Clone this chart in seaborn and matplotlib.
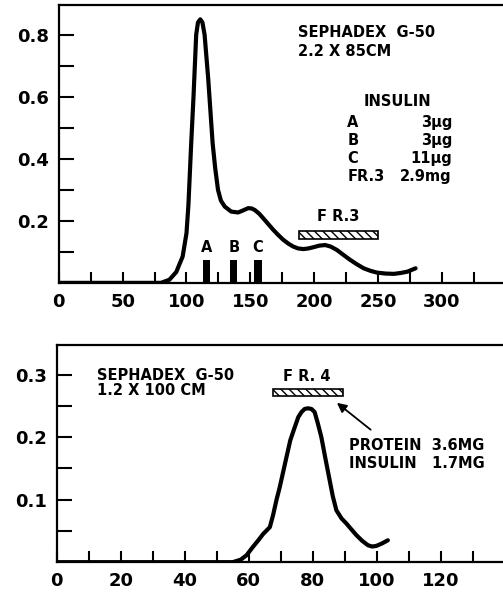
import numpy as np
import pandas as pd
import matplotlib
matplotlib.use("Agg")
import matplotlib.pyplot as plt
import seaborn as sns

# top panel: Sephadex G-50, 2.2 x 85 cm
top_x = [0, 80, 86.6, 92, 97, 100, 101.5, 102.6, 103.7, 105.5, 107.6, 109, 110.8, 112.5, 114.2, 117, 120.5,
         122.5, 124.7, 127, 130, 135, 140.4, 144, 148.3, 151, 153.5, 157, 160, 164, 168, 172, 175.8, 180,
         183.7, 187.5, 191.6, 195.5, 199.5, 204, 208.7, 213, 217.9, 223, 228.3, 233.5, 238.8, 244, 249.3,
         256, 262.5, 268, 273, 279.5]
top_y = [0, 0, 0.01, 0.035, 0.085, 0.16, 0.25, 0.35, 0.45, 0.6, 0.8, 0.84, 0.85, 0.84, 0.80, 0.66, 0.45,
         0.37, 0.30, 0.265, 0.246, 0.23, 0.227, 0.233, 0.241, 0.24, 0.235, 0.223, 0.209, 0.19, 0.171, 0.154,
         0.139, 0.126, 0.117, 0.111, 0.109, 0.111, 0.115, 0.12, 0.122, 0.117, 0.106, 0.09, 0.074, 0.06, 0.047,
         0.039, 0.033, 0.03, 0.029, 0.032, 0.036, 0.047]
marker_labels = ["A", "B", "C"]
marker_x = [115.5, 137, 156]
marker_h = [0.074, 0.074, 0.074]
fr3_range = [188, 250]
fr3_level = 0.155
insulin_rows = ["A", "B", "C", "FR.3"]
insulin_amounts = ["3\u03bcg", "3\u03bcg", "11\u03bcg", "2.9mg"]

# bottom panel: Sephadex G-50, 1.2 x 100 cm
bot_x = [0, 55, 57.5, 59.3, 61.4, 63, 64.5, 66.6, 67.6, 68.7, 69.7, 71.8, 73, 74.4, 75.5, 76.5, 77.5, 78.5,
         79.6, 80.6, 81.6, 82.7, 84, 85.3, 86.3, 87.4, 89, 90.5, 92, 93.7, 95.5, 97.3, 98.6, 99.9, 101.7, 103.5]
bot_y = [0, 0, 0.004, 0.011, 0.025, 0.035, 0.045, 0.056, 0.075, 0.10, 0.120, 0.168, 0.195, 0.216, 0.232,
         0.240, 0.245, 0.246, 0.245, 0.240, 0.222, 0.20, 0.165, 0.131, 0.105, 0.083, 0.07, 0.062, 0.053,
         0.043, 0.034, 0.027, 0.025, 0.026, 0.03, 0.035]
fr4_range = [67.6, 89.5]
fr4_level = 0.2715

sns.set_style("ticks")
plt.rcParams['font.family'] = ['DejaVu Sans']
plt.rcParams['text.color'] = 'black'
plt.rcParams['xtick.color'] = 'black'
plt.rcParams['ytick.color'] = 'black'

fig = plt.figure(figsize=(5.03, 5.93), dpi=100)
ax1 = fig.add_axes([0.117, 0.523, 0.883, 0.469])
ax2 = fig.add_axes([0.113, 0.052, 0.887, 0.366])

txt = dict(fontsize=10.5, fontweight='bold', color='black')

for ax in (ax1, ax2):
    for s in ['top', 'left', 'bottom']:
        ax.spines[s].set_linewidth(1.6)
        ax.spines[s].set_color('black')
    ax.spines['right'].set_visible(False)
    ax.tick_params(axis='both', which='both', direction='in', width=1.5, color='black',
                   labelcolor='black', labelsize=13, pad=7)
    ax.tick_params(axis='y', which='both', length=11)
    ax.tick_params(axis='x', which='both', length=8)

line_kw = dict(color='black', linewidth=3, solid_capstyle='round', solid_joinstyle='round', sort=False)

# ---- top
sns.lineplot(x=top_x, y=top_y, ax=ax1, **line_kw)
ax1.bar(marker_x, marker_h, width=5.8, color='black', edgecolor='none', linewidth=0)
for lab, xx, hh in zip(marker_labels, marker_x, marker_h):
    ax1.text(xx, hh + 0.015, lab, ha='center', va='bottom', **txt)
ax1.barh(fr3_level, fr3_range[1] - fr3_range[0], left=fr3_range[0], height=0.026,
         color='white', edgecolor='black', hatch='\\\\\\\\', linewidth=1.2)
ax1.text(sum(fr3_range) / 2, 0.19, "F R.3", ha='center', va='bottom', **txt)
ax1.text(187, 0.806, "SEPHADEX  G-50", ha='left', va='center', **txt)
ax1.text(187, 0.745, "2.2 X 85CM", ha='left', va='center', **txt)
ax1.text(265, 0.584, "INSULIN", ha='center', va='center', **txt)
for i, (r, a) in enumerate(zip(insulin_rows, insulin_amounts)):
    yy = 0.516 - i * 0.058
    ax1.text(226, yy, r, ha='left', va='center', **txt)
    ax1.text(308, yy, a, ha='right', va='center', **txt)
ax1.set_xlim(0, 348)
ax1.set_ylim(0, 0.897)
ax1.set_xticks(np.arange(0, 301, 50))
ax1.set_xticks(np.arange(25, 326, 50), minor=True)
ax1.set_yticks([0.2, 0.4, 0.6, 0.8])
ax1.set_yticks([0.1, 0.3, 0.5, 0.7], minor=True)
ax1.set_yticklabels(["0.2", "0.4", "0.6", "0.8"], fontweight='bold')
ax1.set_xticklabels([str(v) for v in range(0, 301, 50)], fontweight='bold')
ax1.set_xlabel("")
ax1.set_ylabel("")

# ---- bottom
sns.lineplot(x=bot_x, y=bot_y, ax=ax2, **line_kw)
ax2.barh(fr4_level, fr4_range[1] - fr4_range[0], left=fr4_range[0], height=0.011,
         color='white', edgecolor='black', hatch='\\\\\\\\', linewidth=1.2)
ax2.text(sum(fr4_range) / 2 - 0.5, 0.285, "F R. 4", ha='center', va='bottom', **txt)
ax2.annotate("", xy=(86.9, 0.2575), xytext=(98.8, 0.209),
             arrowprops=dict(arrowstyle='-|>', color='black', lw=1.3, mutation_scale=14))
ax2.text(12.5, 0.299, "SEPHADEX  G-50", ha='left', va='center', **txt)
ax2.text(12.5, 0.274, "1.2 X 100 CM", ha='left', va='center', **txt)
ax2.text(91.5, 0.187, "PROTEIN  3.6MG", ha='left', va='center', **txt)
ax2.text(91.5, 0.157, "INSULIN   1.7MG", ha='left', va='center', **txt)
ax2.set_xlim(0, 139.5)
ax2.set_ylim(0, 0.347)
ax2.set_xticks(np.arange(0, 121, 20))
ax2.set_xticks(np.arange(10, 131, 20), minor=True)
ax2.set_yticks([0.1, 0.2, 0.3])
ax2.set_yticks([0.05, 0.15, 0.25], minor=True)
ax2.set_yticklabels(["0.1", "0.2", "0.3"], fontweight='bold')
ax2.set_xticklabels([str(v) for v in range(0, 121, 20)], fontweight='bold')
ax2.set_xlabel("")
ax2.set_ylabel("")

fig.savefig("out.png", dpi=100, facecolor='white')
